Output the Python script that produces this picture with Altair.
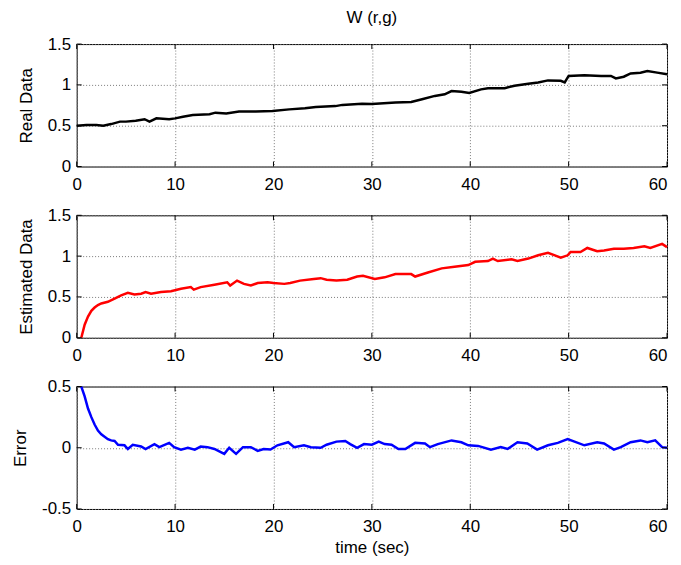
import altair as alt
import pandas as pd

FONT = "Liberation Sans"

x_ticks = [0, 10, 20, 30, 40, 50, 60]
data_ticks = [0, 0.5, 1, 1.5]
err_ticks = [-0.5, 0, 0.5]

real_t = [0, 1, 2, 2.7, 3.5, 4.4, 5, 6, 6.9, 7.4, 8.1, 9.4, 10, 10.8, 11.8, 13.5, 14.1, 15.2, 16.5, 18.2,
          19.9, 21.6, 23.2, 24.3, 26.3, 27, 29, 30, 32.4, 34, 35.1, 36.4, 37.4, 38.1, 39.1, 39.9, 41.1, 41.8,
          43.5, 44.5, 45.9, 46.9, 47.9, 49.2, 49.6, 50.0, 51.6, 53.3, 54.3, 54.8, 55.6, 56.3, 57.3, 58.0, 59.0, 60]
real_v = [0.50, 0.51, 0.51, 0.50, 0.52, 0.55, 0.55, 0.56, 0.58, 0.55, 0.59, 0.58, 0.59, 0.61, 0.63, 0.64, 0.66,
          0.65, 0.675, 0.675, 0.68, 0.70, 0.715, 0.73, 0.74, 0.755, 0.77, 0.765, 0.785, 0.79, 0.825, 0.865, 0.885,
          0.925, 0.915, 0.90, 0.945, 0.96, 0.96, 0.99, 1.015, 1.03, 1.055, 1.05, 1.03, 1.11, 1.118, 1.11, 1.11,
          1.08, 1.10, 1.14, 1.15, 1.17, 1.15, 1.13]

est_t = [0.47, 0.81, 1.15, 1.49, 1.82, 2.16, 2.5, 3.17, 3.85, 4.52, 5.2, 5.87, 6.55, 7.0, 7.56, 8.57, 9.58,
         10.6, 11.6, 11.9, 12.6, 14.0, 15.3, 15.6, 16.3, 17.0, 17.7, 18.4, 19.4, 20.0, 21.1, 21.7, 22.7, 24.1,
         24.8, 25.4, 26.4, 27.5, 28.5, 29.1, 30.3, 31.3, 32.4, 34.0, 34.4, 35.7, 37.1, 38.4, 39.8, 40.5, 41.8,
         42.3, 42.8, 44.2, 44.8, 45.9, 46.9, 47.9, 48.6, 49.2, 49.9, 50.2, 51.2, 51.9, 52.9, 53.6, 54.6, 55.6,
         56.6, 57.7, 58.3, 59.5, 60]
est_v = [0.00, 0.16, 0.26, 0.33, 0.37, 0.40, 0.42, 0.44, 0.48, 0.52, 0.55, 0.53, 0.54, 0.56, 0.54, 0.56, 0.57,
         0.60, 0.62, 0.59, 0.62, 0.65, 0.68, 0.64, 0.70, 0.66, 0.64, 0.67, 0.68, 0.67, 0.66, 0.67, 0.70, 0.72,
         0.73, 0.71, 0.70, 0.71, 0.75, 0.76, 0.72, 0.74, 0.78, 0.78, 0.75, 0.80, 0.85, 0.87, 0.89, 0.93, 0.94,
         0.97, 0.94, 0.96, 0.94, 0.97, 1.01, 1.04, 1.01, 0.98, 1.01, 1.05, 1.05, 1.10, 1.06, 1.07, 1.09, 1.09,
         1.10, 1.12, 1.10, 1.15, 1.11]

err_t = [0.47, 0.81, 1.15, 1.49, 1.82, 2.16, 2.5, 3.17, 3.5, 3.85, 4.2, 4.86, 5.2, 5.7, 6.55, 7.0, 7.9, 8.4,
         9.4, 9.9, 10.6, 11.3, 12.0, 12.6, 13.3, 14.0, 15.0, 15.5, 16.2, 16.9, 17.7, 18.4, 19.0, 19.7, 20.4,
         21.5, 22.1, 23.1, 23.8, 24.8, 25.4, 26.4, 27.3, 27.8, 28.5, 29.2, 30.0, 30.7, 31.3, 32.0, 32.7, 33.4,
         34.4, 35.4, 35.9, 36.7, 38.1, 39.1, 39.8, 40.8, 42.1, 43.1, 43.8, 44.8, 45.8, 46.8, 47.9, 48.9, 49.9,
         50.6, 51.6, 52.9, 53.6, 54.6, 55.3, 56.3, 57.3, 58.0, 58.8, 59.5, 60]
err_v = [0.50, 0.42, 0.32, 0.25, 0.19, 0.14, 0.11, 0.07, 0.06, 0.055, 0.024, 0.02, -0.01, 0.024, 0.01, -0.01,
         0.03, 0.005, 0.04, 0.005, -0.015, 0.0, -0.015, 0.01, 0.005, -0.01, -0.05, 0.0, -0.05, 0.005, 0.005,
         -0.025, -0.01, -0.015, 0.02, 0.045, 0.005, 0.02, 0.005, 0.0, 0.025, 0.05, 0.055, 0.03, 0.0, 0.03, 0.025,
         0.05, 0.03, 0.025, -0.01, -0.01, 0.04, 0.035, 0.005, 0.03, 0.06, 0.045, 0.02, 0.015, -0.015, 0.005,
         -0.01, 0.045, 0.035, -0.015, 0.02, 0.04, 0.07, 0.05, 0.02, 0.045, 0.035, -0.015, 0.005, 0.045, 0.06,
         0.045, 0.06, 0.005, 0.0]

W = 593
H = 123
TL = 5  # inward tick length


def panel(t, v, color, ytitle, ydomain, yticks, xtitle=None, title=None):
    df = pd.DataFrame({"t": t, "v": v})
    xt = pd.DataFrame({"t": x_ticks})
    yt = pd.DataFrame({"v": yticks})
    xenc = alt.X("t:Q", scale=alt.Scale(domain=[0, 60], nice=False, zero=False),
                 axis=alt.Axis(values=x_ticks, title=xtitle if xtitle else None,
                               labelExpr="'' + datum.value",
                               labelAlign={"condition": {"test": "datum.value == 60", "value": "right"},
                                           "value": "center"}))
    yenc = alt.Y("v:Q", scale=alt.Scale(domain=ydomain, nice=False, zero=False),
                 axis=alt.Axis(values=yticks, title=ytitle, labelExpr="'' + datum.value"))
    line = alt.Chart(df).mark_line(color=color, strokeWidth=2.5).encode(x=xenc, y=yenc)
    tick_style = dict(color="black", strokeWidth=1)
    top = alt.Chart(xt).mark_rule(**tick_style).encode(x="t:Q", y=alt.value(0), y2=alt.value(TL))
    bot = alt.Chart(xt).mark_rule(**tick_style).encode(x="t:Q", y=alt.value(H - TL), y2=alt.value(H))
    left = alt.Chart(yt).mark_rule(**tick_style).encode(y="v:Q", x=alt.value(0), x2=alt.value(TL))
    right = alt.Chart(yt).mark_rule(**tick_style).encode(y="v:Q", x=alt.value(W - TL), x2=alt.value(W))
    ch = alt.layer(line, top, bot, left, right).properties(width=W, height=H)
    if title:
        ch = ch.properties(title=alt.TitleParams(title, frame="group", anchor="middle", offset=8,
                                                 fontSize=17, font=FONT, fontWeight="normal", color="black"))
    return ch


p1 = panel(real_t, real_v, "#000000", "Real Data", [0, 1.5], data_ticks, title="W (r,g)")
p2 = panel(est_t, est_v, "#ff0000", "Estimated Data", [0, 1.5], data_ticks)
p3 = panel(err_t, err_v, "#0000ff", "Error", [-0.5, 0.5], err_ticks, xtitle="time (sec)")

chart = alt.vconcat(p1, p2, p3, spacing=49, bounds="flush").properties(
    padding={"left": 3, "top": -1, "right": 0, "bottom": -1}
).configure_view(
    stroke="black", strokeWidth=1
).configure_axis(
    labelFont=FONT, labelFontSize=17, labelColor="black",
    titleFont=FONT, titleFontSize=17, titleFontWeight="normal", titleColor="black",
    grid=True, gridColor="#7a7a7a", gridDash=[1, 2], gridWidth=1,
    domain=False, ticks=False, tickSize=0,
).configure_axisX(
    labelPadding=10, titlePadding=5
).configure_axisY(
    labelPadding=6, titlePadding=12
)

chart.save("out.html", embed_options={"renderer": "svg", "actions": False})
